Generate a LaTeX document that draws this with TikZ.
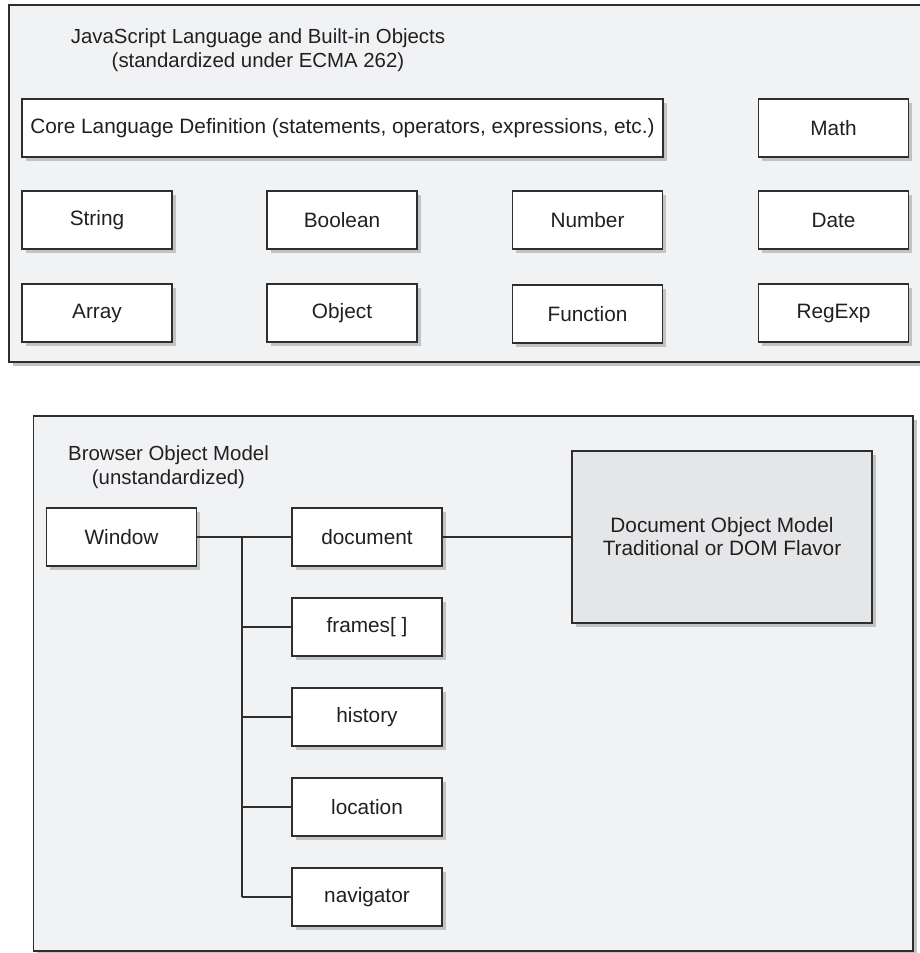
\documentclass[tikz,border=0pt]{standalone}
\usepackage{fontspec}
\setmainfont{Liberation Sans}
\usetikzlibrary{shadows}

\definecolor{panelfill}{HTML}{F1F2F4}
\definecolor{domfill}{HTML}{E5E6E8}
\definecolor{shadowgray}{HTML}{C2C3C5}
\definecolor{inkline}{HTML}{2E2E2E}
\definecolor{inktext}{HTML}{231F20}

\tikzset{
  objbox/.style={draw=inkline, fill=white, line width=1.4pt, inner sep=0pt,
    minimum width=150pt, minimum height=58pt, text=inktext,
    font=\fontsize{20.8}{23}\selectfont,
    drop shadow={shadow xshift=3.5pt, shadow yshift=-3.5pt, fill=shadowgray, opacity=1}},
  wide/.style={minimum width=641pt},
  dombox/.style={objbox, fill=domfill, minimum width=300pt, minimum height=172pt,
    align=center},
  paneltitle/.style={align=center, text=inktext, inner sep=0pt,
    font=\fontsize{20.4}{23.5}\selectfont},
  link/.style={draw=inkline, line width=1.3pt},
  trunk/.style={draw=inkline, line width=1.9pt},
}

\begin{document}
\begin{tikzpicture}[x=1pt, y=-1pt]
  \useasboundingbox (0,0) rectangle (920,953);
  \clip (0,0) rectangle (920,953);

  % upper panel: the language and its built-in objects
  \fill[shadowgray] (12.5,8.5) rectangle (945,365.5);
  \filldraw[fill=panelfill, draw=inkline, line width=1.4pt] (9,5) rectangle (940,362);
  \node[paneltitle] (jstitle) at (258,50)
    {JavaScript Language and Built-in Objects\\(standardized under ECMA 262)};

  \node[objbox, wide] (core) at (342.5,128)
    {Core Language Definition (statements, operators, expressions, etc.)};
  \node[objbox] (math)    at (833.5,128) {Math};
  \node[objbox] (string)  at (97,220)    {String};
  \node[objbox] (boolean) at (342,220)   {Boolean};
  \node[objbox] (number)  at (587.5,220) {Number};
  \node[objbox] (date)    at (833.5,220) {Date};
  \node[objbox] (array)   at (97,313)    {Array};
  \node[objbox] (object)  at (342,313)   {Object};
  \node[objbox] (function) at (587.5,314) {Function};
  \node[objbox] (regexp)  at (833.5,313) {RegExp};

  % lower panel: the browser object model
  \fill[shadowgray] (37,419.5) rectangle (916.5,954.5);
  \filldraw[fill=panelfill, draw=inkline, line width=1.4pt] (33.5,416) rectangle (913,951);
  \node[paneltitle] (bomtitle) at (168.5,467)
    {Browser Object Model\\(unstandardized)};

  \node[objbox] (window)    at (121.5,537) {Window};
  \node[objbox] (document)  at (367,537)   {document};
  \node[objbox] (frames)    at (367,627)   {frames[ ]};
  \node[objbox] (history)   at (367,717)   {history};
  \node[objbox] (location)  at (367,807)   {location};
  \node[objbox] (navigator) at (367,897)   {navigator};
  \node[dombox] (dom) at (722,537)
    {Document Object Model\\Traditional or DOM Flavor};

  % connectors
  \coordinate (trunktop) at (242,537);
  \coordinate (trunkbot) at (242,897);
  \draw[link] (window.east) -- (document.west);
  \draw[link] (document.east) -- (dom.west);
  \draw[trunk] (trunktop) -- (trunkbot);
  \draw[link] (trunktop |- frames.west) -- (frames.west);
  \draw[link] (trunktop |- history.west) -- (history.west);
  \draw[link] (trunktop |- location.west) -- (location.west);
  \draw[link] (trunkbot) -- (navigator.west);
\end{tikzpicture}
\end{document}
